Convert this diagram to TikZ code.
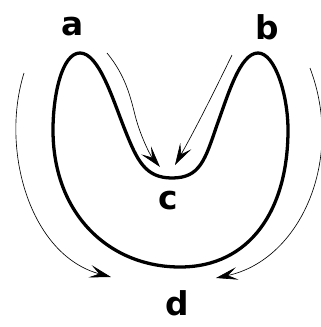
\documentclass[tikz,border=0pt]{standalone}
\usepackage{fontspec}
\setmainfont{DejaVu Sans}
\usepackage{tikz}
\usetikzlibrary{arrows.meta, positioning}

\tikzset{
  lbl/.style={font=\fontsize{28}{30}\selectfont\bfseries, inner sep=0pt},
  flow/.style={line width=0.55pt, -{Stealth[length=6.5mm, width=3.8mm, inset=2.8mm]}},
  cell/.style={line width=2.8pt}
}

\begin{document}
\begin{tikzpicture}[x=0.03cm, y=-0.03cm]
      \useasboundingbox (0,0) rectangle (321,327);
      \clip (0,0) rectangle (321,327);

      % labels
      \node[lbl] (a) at (73,27) {a};
      \node[lbl] (b) at (267,27) {b};
      \node[lbl] (c) at (168,201) {c};
      \node[lbl] (d) at (177,303) {d};

      % the cell
      \draw[cell] (80,53)
        .. controls (62,53) and (53,95) .. (53,130)
        .. controls (53,215) and (110,267) .. (180,267)
        .. controls (250,267) and (288,210) .. (288,130)
        .. controls (288,95) and (275,53) .. (258,53)
        .. controls (240,53) and (228,95) .. (217,125)
        .. controls (205,160) and (200,178) .. (172,178)
        .. controls (145,178) and (137,160) .. (125,130)
        .. controls (113,100) and (99,53) .. (80,53) -- cycle;

      % start points of the flows
      \coordinate (a1) at (107,53);
      \coordinate (b1) at (232,55);
      \coordinate (l1) at (24,73);
      \coordinate (r1) at (310,68);
      \coordinate (c1) at (160,167);
      \coordinate (c2) at (175,165);
      \coordinate (d1) at (111,277);
      \coordinate (d2) at (216,278);

      \draw[flow] (a1) .. controls (125,75) and (130,95) .. (135,115) .. controls (140,135) and (150,155) .. (c1);
      \draw[flow] (b1) .. controls (215,90) and (195,130) .. (c2);
      \draw[flow] (l1) .. controls (0,150) and (30,255) .. (d1);
      \draw[flow] (r1) .. controls (345,160) and (300,260) .. (d2);
    \end{tikzpicture}
\end{document}
